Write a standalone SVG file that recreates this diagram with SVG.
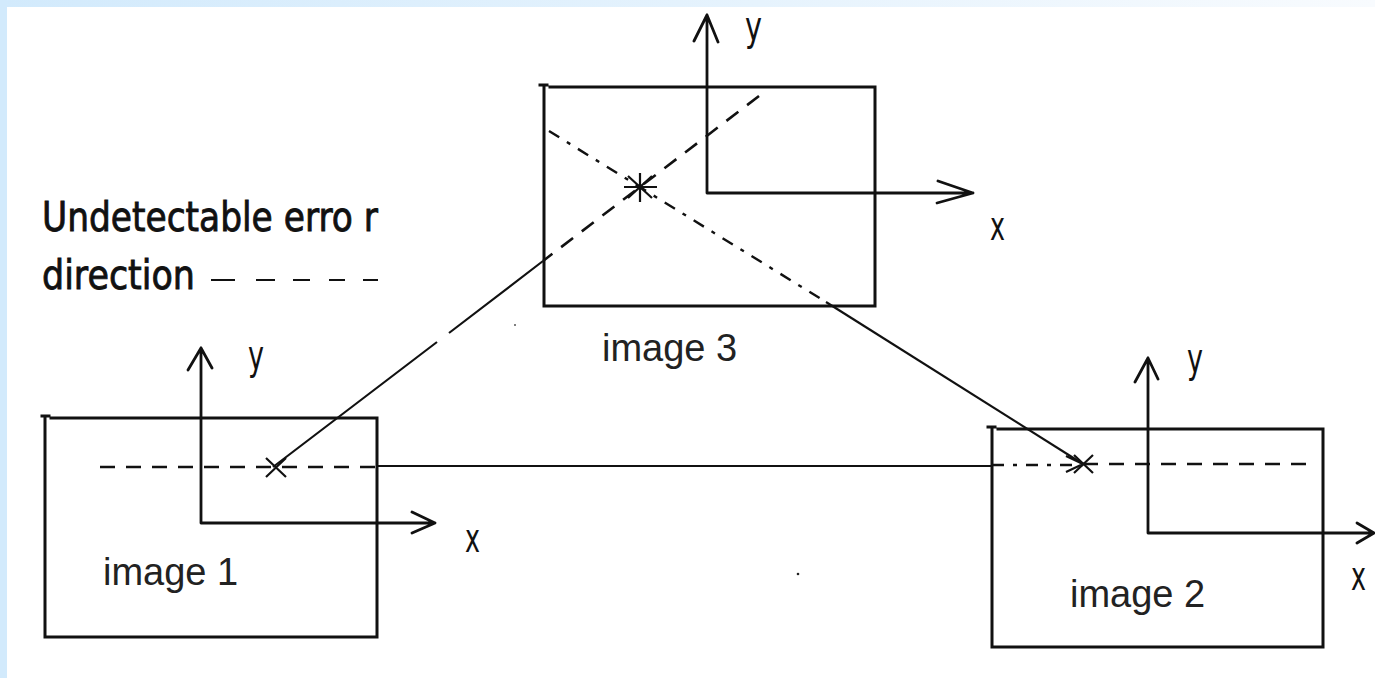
<svg xmlns="http://www.w3.org/2000/svg" width="1375" height="678" viewBox="0 0 1375 678">
<defs>
<linearGradient id="topg" x1="0" y1="0" x2="1" y2="0">
<stop offset="0" stop-color="#d2eafc"/>
<stop offset="0.55" stop-color="#e6f3fd"/>
<stop offset="1" stop-color="#f8fbfe"/>
</linearGradient>
</defs>
<style>
.box{fill:none;stroke:#111;stroke-width:3;stroke-linecap:square}
.ax{fill:none;stroke:#111;stroke-width:2.8;stroke-linecap:round;stroke-linejoin:round}
.ln{fill:none;stroke:#111;stroke-width:2.2;stroke-linecap:butt}
.dash{fill:none;stroke:#111;stroke-width:2.6;stroke-dasharray:15 11}
.dd{fill:none;stroke:#111;stroke-width:2.4;stroke-dasharray:12 9 4 9}
.mk{fill:none;stroke:#111;stroke-width:2.2}
.lbl{font-family:"Liberation Sans",Arial,sans-serif;font-size:38px;fill:#222}
.nar{font-family:"DejaVu Sans",sans-serif;fill:#111}
.leg{stroke:#111;stroke-width:0.9}
</style>
<rect width="1375" height="678" fill="#fff"/>
<rect x="0" y="0" width="1375" height="7" fill="url(#topg)"/>
<rect x="0" y="0" width="7" height="678" fill="#d2eafc"/>

<g id="legend">
<text class="nar leg" x="42" y="231" font-size="41" textLength="336" lengthAdjust="spacingAndGlyphs">Undetectable erro r</text>
<text class="nar leg" x="42" y="289" font-size="41" textLength="153" lengthAdjust="spacingAndGlyphs">direction</text>
<path class="ln" stroke-width="1.8" d="M211 280H235M256 280H275M293 280H310M329 280H345M363 280H378"/>
</g>

<g id="image3">
<path class="box" d="M540 85H547M544 85V306H875V87H550"/>
<text class="lbl" x="602" y="361">image 3</text>
<path class="ax" d="M707 15V193H973M694 41L707 15L718 42M938 181L973 193L937 203"/>
<text class="nar" x="745" y="40" font-size="40" textLength="17" lengthAdjust="spacingAndGlyphs">y</text>
<text class="nar" x="990" y="240" font-size="40" textLength="15" lengthAdjust="spacingAndGlyphs">x</text>
<path class="mk" d="M640 173V202M624 187H657M628 198L652 176M628 176L652 198"/>
</g>

<g id="image1">
<path class="box" d="M42 416H49M45 416V637H377V418H51"/>
<text class="lbl" x="103" y="585">image 1</text>
<path class="ax" d="M201 348V523H435M188 370L201 348L212 368M412 512L435 523L412 533"/>
<text class="nar" x="248" y="369" font-size="40" textLength="16" lengthAdjust="spacingAndGlyphs">y</text>
<text class="nar" x="465" y="552" font-size="40" textLength="15" lengthAdjust="spacingAndGlyphs">x</text>
<path class="mk" d="M266 458L286 477M266 477L286 458"/>
</g>

<g id="image2">
<path class="box" d="M988 427H995M992 427V647H1323V429H998"/>
<text class="lbl" x="1070" y="607">image 2</text>
<path class="ax" d="M1148 358V533H1374M1135 382L1148 358L1158 379M1357 523L1374 533L1357 543"/>
<text class="nar" x="1187" y="372" font-size="40" textLength="16" lengthAdjust="spacingAndGlyphs">y</text>
<text class="nar" x="1351" y="590" font-size="40" textLength="15" lengthAdjust="spacingAndGlyphs">x</text>
<path class="mk" d="M1074 455L1093 473M1074 473L1093 455"/>
</g>

<g id="connectors">
<path class="dash" d="M759 96L543 261"/>
<path class="ln" d="M543 261L449 333M437 342L273 467"/>
<path class="dd" d="M549 131L826 302"/>
<path class="ln" d="M826 302L1083 464"/>
<path class="dash" d="M100 467H377"/>
<path class="ln" stroke-width="2.6" d="M377 466H992"/>
<path class="dd" d="M992 465H1083"/>
<path class="dash" d="M1083 464H1308"/>
<path class="ln" d="M1066 456L1083 464L1066 472"/>
<circle cx="515" cy="325" r="1" fill="#555"/>
<circle cx="798" cy="574" r="1.3" fill="#222"/>
</g>
</svg>
